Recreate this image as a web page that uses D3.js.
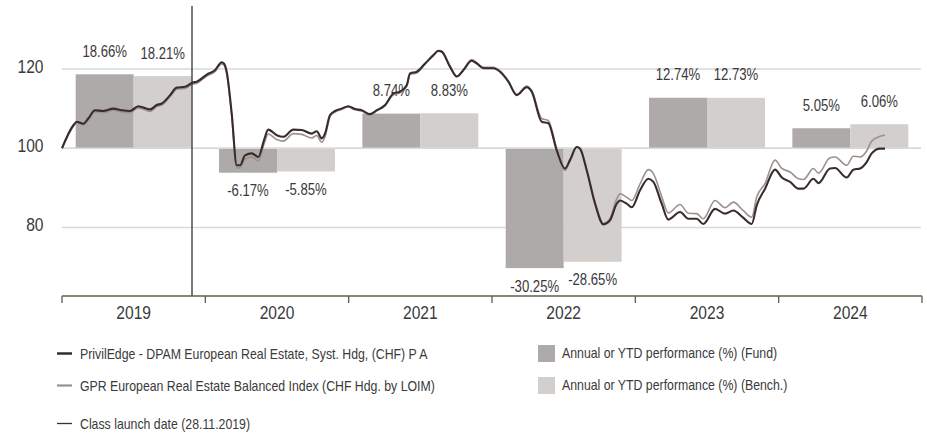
<!DOCTYPE html>
<html>
<head>
<meta charset="utf-8">
<script src="https://cdn.jsdelivr.net/npm/d3@7"></script>
<style>
  html, body { margin: 0; padding: 0; background: #fff; }
  svg text { font-family: "Liberation Sans Narrow", "Arial Narrow", "Liberation Sans", sans-serif; fill: #3a3a3a; }
</style>
</head>
<body>
<svg id="chart" width="927" height="434"></svg>
<script>
// ---------- DATA ----------
const years = ["2019", "2020", "2021", "2022", "2023", "2024"];
const fundPerf = [18.66, -6.17, 8.74, -30.25, 12.74, 5.05];
const benchPerf = [18.21, -5.85, 8.83, -28.65, 12.73, 6.06];
const yTicks = [80, 100, 120];

// time as decimal years
const t = [2019.000,2019.079,2019.103,2019.149,2019.183,2019.230,2019.288,2019.358,2019.417,2019.474,
  2019.532,2019.614,2019.661,2019.696,2019.754,2019.800,2019.858,2019.912,2019.940,2020.010,
  2020.067,2020.114,2020.130,2020.149,2020.184,2020.219,2020.242,2020.277,2020.324,2020.370,
  2020.409,2020.439,2020.498,2020.544,2020.614,2020.672,2020.742,2020.777,2020.812,2020.835,
  2020.870,2020.905,2020.951,2020.997,2021.044,2021.091,2021.149,2021.196,2021.254,2021.311,
  2021.358,2021.405,2021.428,2021.475,2021.533,2021.591,2021.626,2021.649,2021.707,2021.754,
  2021.800,2021.858,2021.893,2021.940,2022.009,2022.056,2022.114,2022.173,2022.242,2022.277,
  2022.347,2022.393,2022.451,2022.509,2022.544,2022.591,2022.614,2022.661,2022.719,2022.777,
  2022.823,2022.870,2022.893,2022.940,2022.975,2023.033,2023.091,2023.126,2023.184,2023.230,
  2023.312,2023.370,2023.428,2023.474,2023.556,2023.626,2023.684,2023.752,2023.812,2023.847,
  2023.905,2023.975,2024.022,2024.080,2024.138,2024.173,2024.243,2024.278,2024.358,2024.393,
  2024.475,2024.521,2024.568,2024.614,2024.649,2024.707,2024.742];
const fund = [100,105.8,106.7,106.2,107.5,109.6,109.4,110.0,109.6,109.4,
  110.6,109.8,110.9,111.3,113.4,115.3,115.5,116.6,116.8,118.6,
  119.7,121.7,121.4,119.3,108.8,95.7,95.7,98.2,98.7,97.8,
  102.0,104.7,103.3,102.9,104.7,104.6,103.7,104.3,102.5,103.7,
  108.4,109.4,110.0,110.6,109.9,109.6,108.6,109.6,110.9,113.8,
  114.3,115.9,118.9,119.3,121.4,123.5,124.6,124.4,120.6,118.1,
  119.7,122.1,121.4,120.2,120.2,119.3,116.8,113.4,115.4,114.3,
  106.7,106.3,99.5,94.9,97.0,100.3,99.9,94.4,86.0,80.8,
  81.8,86.0,86.8,86.0,85.1,89.4,92.3,91.5,86.0,82.0,
  83.9,82.2,82.2,80.9,84.7,83.5,84.3,82.5,80.9,85.6,
  89.8,94.6,92.6,91.5,89.8,89.8,92.3,91.2,94.9,95.0,
  92.6,94.6,94.9,96.5,98.7,99.9,99.9];
const bench = [100,105.5,106.4,105.9,107.1,109.2,109.0,109.6,109.2,109.0,
  110.2,109.3,110.5,110.9,113.0,114.9,115.1,116.2,116.4,118.2,
  119.3,121.3,121.0,118.9,108.2,95.0,95.0,97.3,97.8,96.8,
  101.0,103.6,102.2,101.8,103.7,103.5,102.6,103.2,101.5,102.9,
  108.0,109.1,109.8,110.4,109.7,109.4,108.4,109.4,110.7,113.5,
  114.0,115.6,118.6,119.0,121.2,123.4,124.5,124.3,120.6,118.1,
  119.8,122.4,121.6,120.4,120.4,119.5,117.0,113.6,115.7,114.6,
  107.5,107.0,100.0,94.4,97.0,100.3,100.0,94.6,86.4,81.0,
  82.3,87.2,88.5,87.6,86.8,91.0,94.6,93.6,87.8,83.7,
  85.8,83.6,83.5,82.2,86.8,85.0,86.4,84.3,82.6,87.7,
  91.1,97.0,94.9,94.0,92.3,92.1,94.9,93.7,97.6,97.8,
  95.7,98.0,97.8,99.3,101.8,103.0,103.3];
const launchDate = 2019.907; // 28.11.2019

const legendLines = [
  "PrivilEdge - DPAM European Real Estate, Syst. Hdg, (CHF) P A",
  "GPR European Real Estate Balanced Index (CHF Hdg. by LOIM)",
  "Class launch date (28.11.2019)"
];
const legendBars = [
  "Annual or YTD performance (%) (Fund)",
  "Annual or YTD performance (%) (Bench.)"
];

// ---------- STYLE ----------
const C = {
  fundBar: "#aeaaa9", benchBar: "#d3cfcc",
  fundLine: "#382c2c", benchLine: "#9c918c",
  grid: "#d9d9d9", axis: "#5e604e", launch: "#333333"
};

// ---------- NARROW FONT CHECK ----------
function narrowAvailable() {
  const c = document.createElement("canvas").getContext("2d");
  c.font = "40px 'Liberation Sans Narrow', monospace";
  const a = c.measureText("PrivilEdge 18.66%").width;
  c.font = "40px monospace";
  const b = c.measureText("PrivilEdge 18.66%").width;
  return Math.abs(a - b) > 1;
}
const hasNarrow = narrowAvailable();

// ---------- SCALES ----------
const svg = d3.select("#chart");
const x = d3.scaleLinear().domain([2019, 2025]).range([62, 922]);
const y = d3.scaleLinear().domain([80, 120]).range([227.5, 69]);
const xBand = d3.scaleBand().domain(years).range([62, 922]);
const xSub = d3.scaleBand().domain(["fund", "bench"]).range([13.7, xBand.bandwidth() - 13.7]);

// grid
svg.append("g").selectAll("line").data(yTicks).join("line")
  .attr("x1", 62).attr("x2", 921)
  .attr("y1", d => y(d)).attr("y2", d => y(d))
  .attr("stroke", C.grid).attr("stroke-width", 1.5);

// y labels
svg.append("g").selectAll("text").data(yTicks).join("text")
  .attr("x", 43.5).attr("y", d => y(d) + 3.8)
  .attr("text-anchor", "end").attr("font-size", 19).text(d => d);

// bars
const barData = [];
years.forEach((yr, i) => {
  barData.push({ yr, key: "fund", v: fundPerf[i] });
  barData.push({ yr, key: "bench", v: benchPerf[i] });
});
const gBars = svg.append("g");
gBars.selectAll("rect").data(barData).join("rect")
  .attr("x", d => xBand(d.yr) + xSub(d.key))
  .attr("width", xSub.bandwidth())
  .attr("y", d => Math.min(y(100), y(100 + d.v)))
  .attr("height", d => Math.abs(y(100 + d.v) - y(100)))
  .attr("fill", d => d.key === "fund" ? C.fundBar : C.benchBar);

// re-draw 100 line over bars
svg.append("line").attr("x1", 62).attr("x2", 921).attr("y1", y(100)).attr("y2", y(100))
  .attr("stroke", C.grid).attr("stroke-width", 1.5);

// bar labels
gBars.selectAll("text").data(barData).join("text")
  .attr("x", d => xBand(d.yr) + xSub(d.key) + xSub.bandwidth() / 2)
  .attr("y", d => d.v >= 0 ? y(100 + d.v) - 17.5 : y(100 + d.v) + 23.5)
  .attr("text-anchor", "middle").attr("font-size", 16)
  .text(d => d.v.toFixed(2) + "%");

// lines
const line = d3.line().x((d, i) => x(t[i])).y(d => y(d)).curve(d3.curveMonotoneX);
svg.append("path").datum(bench).attr("d", line)
  .attr("fill", "none").attr("stroke", C.benchLine).attr("stroke-width", 1.6).attr("stroke-linejoin", "round");
svg.append("path").datum(fund).attr("d", line)
  .attr("fill", "none").attr("stroke", C.fundLine).attr("stroke-width", 2.1).attr("stroke-linejoin", "round");

// launch line
svg.append("line").attr("x1", x(launchDate)).attr("x2", x(launchDate))
  .attr("y1", 6).attr("y2", 296).attr("stroke", C.launch).attr("stroke-width", 1.3);

// x axis
const axisY = 296;
const yearBounds = d3.range(2019, 2026);
const gx = svg.append("g");
gx.append("line").attr("x1", 62).attr("x2", 922).attr("y1", axisY).attr("y2", axisY)
  .attr("stroke", C.axis).attr("stroke-width", 1.5);
gx.selectAll("line.tick").data(yearBounds).join("line").attr("class", "tick")
  .attr("x1", d => x(d)).attr("x2", d => x(d))
  .attr("y1", axisY).attr("y2", axisY + 7)
  .attr("stroke", C.axis).attr("stroke-width", 1.3);
gx.selectAll("text").data(years).join("text")
  .attr("x", d => xBand(d) + xBand.bandwidth() / 2).attr("y", 319)
  .attr("text-anchor", "middle").attr("font-size", 19).text(d => d);

// legend
const lg = svg.append("g");
const lgRows = [353.5, 385.5, 423.5];
const lgStyles = [
  { c: C.fundLine, w: 2.5 }, { c: C.benchLine, w: 2.2 }, { c: C.launch, w: 1.3 }
];
legendLines.forEach((txt, i) => {
  lg.append("line").attr("x1", 57).attr("x2", 72).attr("y1", lgRows[i]).attr("y2", lgRows[i])
    .attr("stroke", lgStyles[i].c).attr("stroke-width", lgStyles[i].w);
  lg.append("text").attr("x", 80).attr("y", lgRows[i] + 5).attr("font-size", 15).text(txt);
});
const lbRows = [345, 377];
legendBars.forEach((txt, i) => {
  lg.append("rect").attr("x", 538).attr("y", lbRows[i]).attr("width", 17).attr("height", 17)
    .attr("fill", i === 0 ? C.fundBar : C.benchBar);
  lg.append("text").attr("x", 562).attr("y", lbRows[i] + 13).attr("font-size", 15).text(txt);
});

// condense text if narrow font is missing
if (!hasNarrow) {
  svg.selectAll("text").each(function () {
    const len = this.getComputedTextLength();
    d3.select(this).attr("textLength", len * 0.82).attr("lengthAdjust", "spacingAndGlyphs");
  });
}
</script>
</body>
</html>
